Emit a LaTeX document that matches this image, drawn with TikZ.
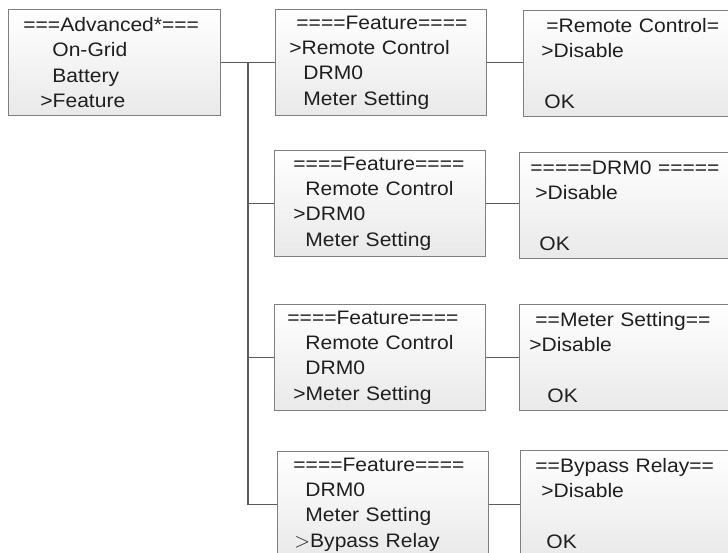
\documentclass[tikz,border=0pt]{standalone}
\usepackage{fontspec}
\setmainfont[FakeStretch=1.08]{Liberation Sans}
\usetikzlibrary{positioning,calc}
\definecolor{menuedge}{HTML}{7F7F7F}
\definecolor{menulink}{HTML}{5A5A5A}
\definecolor{menushade}{HTML}{E9E9E9}
\newcommand{\row}[2]{\hspace*{#1pt}#2}
\tikzset{
  scr/.style={rectangle, draw=menuedge, line width=0.8pt, top color=white, bottom color=menushade,
    anchor=north west, minimum height=106pt, inner sep=0pt, align=left,
    font=\fontsize{19.5}{25.3}\selectfont, text=black!88},
  fscr/.style={scr, text width=211pt},
  rscr/.style={scr, text width=230pt},
  link/.style={draw=menulink, line width=1.8pt},
}
\begin{document}
\begin{tikzpicture}[x=1pt, y=-1pt]
  \clip (0,0) rectangle (728,552);
  \fill[white] (0,0) rectangle (728,552);
  % main menu
  \node[scr, text width=212pt] (adv) at (8,9) {\row{15}{===Advanced*===}\\\row{44}{On-Grid}\\\row{44}{Battery}\\\row{32}{>Feature}};
  % feature pages
  \node[fscr] (f1) at (275,9) {\row{21}{====Feature====}\\\row{14}{>Remote Control}\\\row{28}{DRM0}\\\row{28}{Meter Setting}};
  \node[fscr] (f2) at (274,150) {\row{19}{====Feature====}\\\row{31}{Remote Control}\\\row{19}{>DRM0}\\\row{31}{Meter Setting}};
  \node[fscr] (f3) at (274,304) {\row{13}{====Feature====}\\\row{31}{Remote Control}\\\row{31}{DRM0}\\\row{19}{>Meter Setting}};
  \node[fscr] (f4) at (277,451) {\row{16}{====Feature====}\\\row{28}{DRM0}\\\row{28}{Meter Setting}\\\row{17}{$>$Bypass Relay}};
  % setting pages
  \node[rscr] (r1) at (523,10) {\row{23}{=Remote Control=}\\\row{18}{>Disable}\\\mbox{}\\\row{21}{OK}};
  \node[rscr] (r2) at (519,152) {\row{11}{=====DRM0 =====}\\\row{16}{>Disable}\\\mbox{}\\\row{20}{OK}};
  \node[rscr] (r3) at (519,304) {\row{16}{==Meter Setting==}\\\row{10}{>Disable}\\\mbox{}\\\row{28}{OK}};
  \node[rscr] (r4) at (520,450) {\row{15}{==Bypass Relay==}\\\row{21}{>Disable}\\\mbox{}\\\row{26}{OK}};
  % connectors
  \coordinate (jn) at ($(adv.east)!0.5!(f1.west)$);
  \draw[link] (adv.east) -- (f1.west);
  \draw[link] (jn) |- (f4.west);
  \foreach \f in {f2,f3} \draw[link] (jn |- \f.west) -- (\f.west);
  \foreach \f/\r in {f1/r1,f2/r2,f3/r3,f4/r4} \draw[link] (\f.east) -- (\f.east -| \r.west);
\end{tikzpicture}
\end{document}
